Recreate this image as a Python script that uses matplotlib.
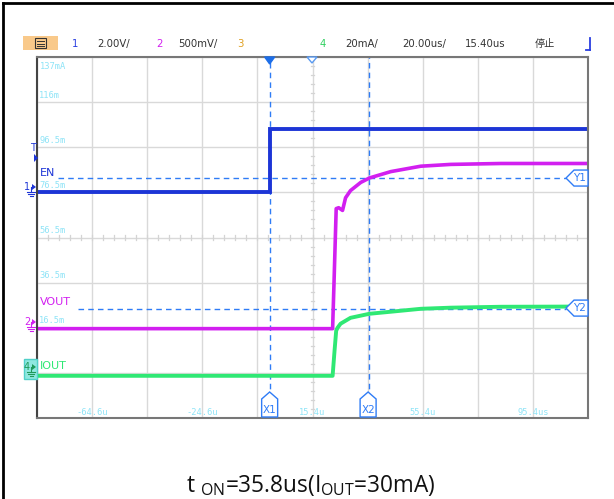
import numpy as np
import matplotlib
matplotlib.use("Agg")
import matplotlib.pyplot as plt
from matplotlib.patches import Polygon, Rectangle
from matplotlib.lines import Line2D

plt.rcParams['font.family'] = ['DejaVu Sans', 'Noto Sans CJK SC']

# scope settings
t_div = 20.0          # us/div
t_center = 15.4       # us at screen centre
en_scale = 2.0        # V/div
vout_scale = 0.5      # V/div
iout_scale = 20.0     # mA/div

# traces (time in us)
en_t = [-84.6, 0.0, 0.0, 115.4]
en_v = [0.0, 0.0, 2.8, 2.8]

vout_t = [-84.6, 22.7, 23.2, 24.0, 24.9, 26.3, 27.4, 29.2, 32.9, 36.1, 43.8, 54.7, 65.6, 83.8, 115.4]
vout_v = [-0.01, -0.01, 0.49, 1.32, 1.33, 1.30, 1.44, 1.52, 1.61, 1.66, 1.73, 1.79, 1.81, 1.82, 1.82]

iout_t = [-84.6, 22.7, 23.4, 24.0, 24.5, 25.6, 29.2, 36.1, 43.8, 54.7, 65.6, 83.8, 115.4]
iout_ma = [-1.3, -1.3, 9.8, 18.7, 20.0, 21.8, 24.4, 26.2, 27.1, 28.4, 28.9, 29.3, 29.4]

# cursors
x1_t, x2_t = 0.0, 35.8
y1_div, y2_div = 1.31, -1.58

y_labels = ['137mA', '116m', '96.5m', '76.5m', '56.5m', '36.5m', '16.5m']
x_labels = ['-64.6u', '-24.6u', '15.4u', '55.4u', '95.4us']

# channel offsets in divisions
en_off, vout_off, iout_off = 1.0, -2.0, -3.0

W, H = 614, 499
fig = plt.figure(figsize=(W / 100, H / 100), dpi=100)


def px(x, y):
    return x / W, 1 - y / H


L, R, T, B = 37, 588, 57, 418
ax = fig.add_axes([L / W, 1 - B / H, (R - L) / W, (B - T) / H])
x0 = t_center - 5 * t_div
ax.set_xlim(x0, x0 + 10 * t_div)
ax.set_ylim(-4, 4)
ax.set_xticks([x0 + i * t_div for i in range(11)])
ax.set_yticks(range(-4, 5))
ax.tick_params(length=0, labelbottom=False, labelleft=False)
ax.grid(True, color='#d9d9d9', lw=1)
for s in ax.spines.values():
    s.set_color('#777777')
    s.set_linewidth(1.5)
ax.spines['left'].set_color('#444444')

# centre tick marks
for i in range(-25, 26):
    tt = t_center + i * t_div / 5
    ax.plot([tt, tt], [-0.06, 0.06], color='#d4d4d4', lw=0.9)
for i in range(-20, 21):
    yy = i * 0.2
    ax.plot([t_center - 0.55, t_center + 0.55], [yy, yy], color='#d4d4d4', lw=0.9)

# level labels (cyan)
lab_c = '#8fe4f7'
ax.text(0.005, 0.985, y_labels[0], transform=ax.transAxes, color=lab_c, fontsize=6.3,
        family='DejaVu Sans Mono', va='top', ha='left')
for k, lab in enumerate(y_labels[1:], start=1):
    ax.text(x0 + 0.8, 4 - k + 0.05, lab, color=lab_c, fontsize=6.3,
            family='DejaVu Sans Mono', va='bottom', ha='left')
for k, lab in enumerate(x_labels):
    ax.text(x0 + t_div * (1 + 2 * k), -3.97, lab, color=lab_c, fontsize=6.3,
            family='DejaVu Sans Mono', va='bottom', ha='center')

# cursors
cur_c = '#2f7cf6'
ax.axvline(x1_t, color=cur_c, lw=1, ls=(0, (4, 3)))
ax.axvline(x2_t, color=cur_c, lw=1, ls=(0, (4, 3)))
ax.plot([x0 + 7.5, x0 + 10 * t_div - 8], [y1_div, y1_div], color=cur_c, lw=1, ls=(0, (4, 3)))
ax.plot([x0 + 15, x0 + 10 * t_div - 8], [y2_div, y2_div], color=cur_c, lw=1, ls=(0, (4, 3)))

# traces
ax.plot(en_t, np.array(en_v) / en_scale + en_off, color='#1d35d6', lw=2.8, solid_joinstyle='miter')
ax.plot(vout_t, np.array(vout_v) / vout_scale + vout_off, color='#d21ff0', lw=2.6)
ax.plot(iout_t, np.array(iout_ma) / iout_scale + iout_off, color='#2fe874', lw=2.8)

# cursor names
ax.text(x0 + 1.0, y1_div + 0.0, 'EN', color='#1d35d6', fontsize=8, va='bottom')
ax.text(x0 + 1.0, y2_div + 0.03, 'VOUT', color='#d21ff0', fontsize=8, va='bottom')
ax.text(x0 + 1.0, iout_off + 0.05, 'IOUT', color='#2fe874', fontsize=8, va='bottom')

# cursor tags
for tt, name in [(x1_t, 'X1'), (x2_t, 'X2')]:
    xc = L + (tt - x0) / t_div * 55
    pts = [px(xc - 8, 417), px(xc - 8, 399), px(xc, 392), px(xc + 8, 399), px(xc + 8, 417)]
    fig.patches.append(Polygon(pts, closed=True, fc='white', ec=cur_c, lw=1, transform=fig.transFigure))
    fig.text(*px(xc, 410), name, color=cur_c, fontsize=7.5, ha='center', va='center')
for yd, name in [(y1_div, 'Y1'), (y2_div, 'Y2')]:
    yc = 237 - yd * 45
    pts = [px(588, yc - 8), px(574, yc - 8), px(566, yc), px(574, yc + 8), px(588, yc + 8)]
    fig.patches.append(Polygon(pts, closed=True, fc='white', ec=cur_c, lw=1, transform=fig.transFigure))
    fig.text(*px(579, yc), name, color=cur_c, fontsize=7.5, ha='center', va='center')

# trigger markers on top
xt = L + (0 - x0) / t_div * 55
fig.patches.append(Polygon([px(xt - 5, 57), px(xt + 5, 57), px(xt, 64)], closed=True,
                           fc='#1d6ee8', ec='#1d6ee8', transform=fig.transFigure))
xc = L + 5 * 55
fig.patches.append(Polygon([px(xc - 5, 57), px(xc + 5, 57), px(xc, 63)], closed=True,
                           fc='white', ec='#5a9af0', lw=1, transform=fig.transFigure))

# left channel markers
fig.text(*px(33, 148), 'T', color='#1d35d6', fontsize=7, ha='center', va='center')
fig.patches.append(Polygon([px(34, 154), px(34, 162), px(38, 158)], closed=True,
                           fc='#1d35d6', ec='none', transform=fig.transFigure))


def gnd_marker(y, label, col, boxed=False):
    if boxed:
        fig.patches.append(Rectangle(px(24, y + 10), 13 / W, 20 / H, fc='#8fe8e0', ec='#50d0c8',
                                     lw=1, transform=fig.transFigure))
    fig.text(*px(27, y - 2), label, color=col, fontsize=7, ha='center', va='center')
    fig.patches.append(Polygon([px(32, y - 5), px(32, y + 1), px(36, y - 2)], closed=True,
                               fc=col, ec='none', transform=fig.transFigure))
    for dx, dy in [(4, 3), (3, 5), (1.5, 7)]:
        fig.lines.append(Line2D([px(31 - dx, 0)[0], px(31 + dx, 0)[0]],
                                [px(0, y + dy)[1]] * 2, color=col, lw=0.8,
                                transform=fig.transFigure))
    fig.lines.append(Line2D([px(31, 0)[0]] * 2, [px(0, y - 2)[1], px(0, y + 3)[1]], color=col,
                            lw=0.8, transform=fig.transFigure))


gnd_marker(189, '1', '#1d35d6')
gnd_marker(324, '2', '#d21ff0')
gnd_marker(369, '4', '#1f9a5a', boxed=True)

# header bar
fig.patches.append(Rectangle(px(23, 50), 35 / W, 14 / H, fc='#f9c98a', ec='none',
                             transform=fig.transFigure))
fig.patches.append(Rectangle(px(35, 48), 11 / W, 10 / H, fc='none', ec='#333333', lw=0.8,
                             transform=fig.transFigure))
for yy in [41, 43.5, 46]:
    fig.lines.append(Line2D([px(37, 0)[0], px(44, 0)[0]], [px(0, yy)[1]] * 2, color='#333333',
                            lw=0.7, transform=fig.transFigure))
hdr = [(72, '1', '#2a3fe0'), (97, '2.00V/', '#333333'), (156, '2', '#d21ff0'),
       (178, '500mV/', '#333333'), (237, '3', '#e0a020'), (320, '4', '#30d060'),
       (345, '20mA/', '#333333'), (402, '20.00us/', '#333333'), (465, '15.40us', '#333333'),
       (535, '停止', '#333333')]
for x, s, c in hdr:
    fig.text(*px(x, 44), s, color=c, fontsize=7.3, ha='left', va='center',
             family=['Noto Sans CJK SC', 'DejaVu Sans'] if s == '停止' else 'DejaVu Sans')
fig.lines.append(Line2D([px(590, 0)[0]] * 2, [px(0, 38)[1], px(0, 50)[1]], color='#2a3fe0', lw=1.3,
                        transform=fig.transFigure))
fig.lines.append(Line2D([px(586, 0)[0], px(590, 0)[0]], [px(0, 50)[1]] * 2, color='#2a3fe0', lw=1.3,
                        transform=fig.transFigure))

# outer frame (left and top)
fig.lines.append(Line2D([px(3, 0)[0]] * 2, [0, px(0, 3)[1]], color='black', lw=2,
                        transform=fig.transFigure))
fig.lines.append(Line2D([px(3, 0)[0], 1], [px(0, 3)[1]] * 2, color='black', lw=2,
                        transform=fig.transFigure))

# caption
fig.text(*px(311, 486), r't $\mathregular{_{ON}}$=35.8us(I$\mathregular{_{OUT}}$=30mA)',
         fontsize=16.3, ha='center', va='center', family='Open Sans', color='#111111')

fig.savefig('out.png', dpi=100)
